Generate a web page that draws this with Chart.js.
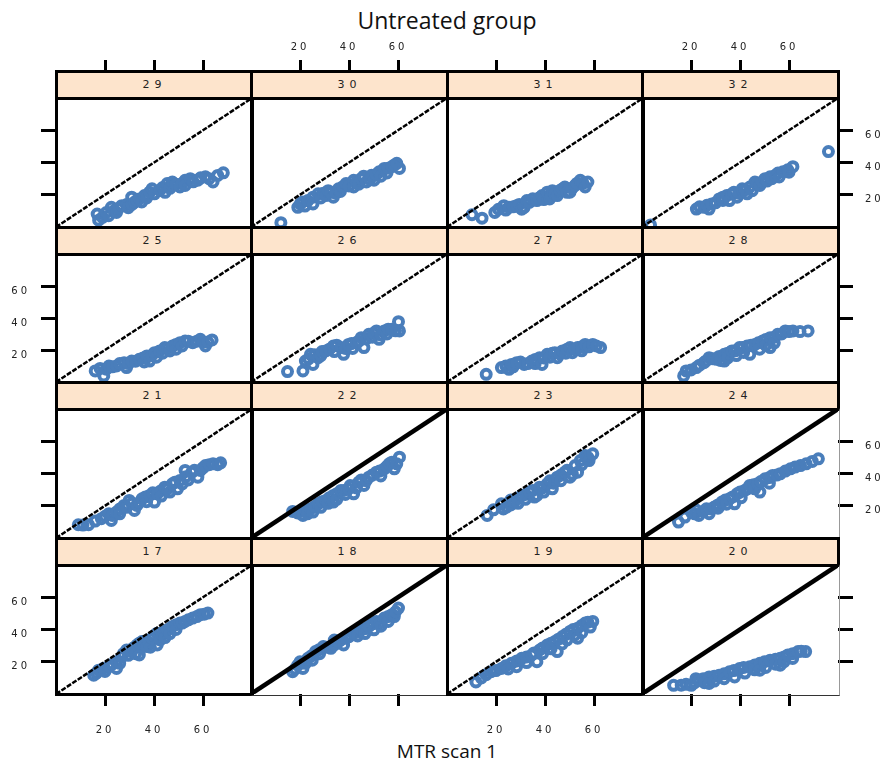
<!DOCTYPE html>
<html>
<head>
<meta charset="utf-8">
<script src="https://cdn.jsdelivr.net/npm/chart.js@4.4.0/dist/chart.umd.min.js"></script>
<style>
  body { margin: 0; background: #fff; }
  #page { position: relative; width: 884px; height: 764px; overflow: hidden; font-family: "DejaVu Sans", sans-serif; }
  #page canvas { position: absolute; }
  .strip { position: absolute; box-sizing: border-box; background: #fde4cc; border: 3px solid #000;
           text-align: center; font-size: 11px; letter-spacing: 5px; color: #222; padding-top: 5px; z-index: 2; }
  .frame { position: absolute; box-sizing: border-box; border: 3px solid #000; z-index: 2; }
  .title { position: absolute; left: 56px; width: 782px; text-align: center; font-family: "Open Sans", sans-serif; color: #111; }
</style>
</head>
<body>
<div id="page">
  <div class="title" style="top:4px; font-size:23px;">Untreated group</div>
  <div class="title" style="top:738px; font-size:19px;">MTR scan 1</div>
</div>
<script>
// panel labels, in drawing order (top row first)
const panelIds = [29, 30, 31, 32, 25, 26, 27, 28, 21, 22, 23, 24, 17, 18, 19, 20];
const tickValues = [20, 40, 60];
const axisMin = 0, axisMax = 80;
// panels whose y = x line is drawn solid and heavy
const heavyDiagonal = [22, 24, 18, 20];

// [MTR scan 1, MTR scan 2] per panel
const p29 = [[16.8,8.0],[17.4,4.2],[19,6],[20.5,9.0],[21.5,7],[22.6,12.2],[23.7,10.1],[24.7,9.0],[25.5,11.5],[26.8,13.2],[28.8,13.9],[29.5,12],[30.9,18.5],[31,14],[32.0,15.3],[33,16.5],[34.0,17.4],[35,15.5],[36.1,19.5],[37,18],[38.2,21.6],[39.2,23.7],[40.2,20.6],[42.3,22.7],[43.5,24.5],[44.5,21.5],[45.4,26.9],[46.5,24],[47.5,25.8],[47.5,27.9],[49,26.5],[50.6,24.8],[51.5,27],[52.7,29.0],[52.7,25.8],[54.8,30.0],[56,28],[57.9,29.0],[59,30.5],[61.0,31.1],[62.5,30],[64.1,27.9],[66,32],[68.3,33.6]];
const p30 = [[12.2,2.7],[19.1,12.2],[20.1,14.3],[21,15.5],[22,13],[23.2,16.4],[25.3,18.5],[25.3,14.3],[27.4,20.6],[28.5,18],[29.5,21],[30.5,19.5],[31.5,22.5],[32.6,21.6],[33.6,18.5],[34.5,21],[35.7,23.7],[36.5,22],[37.5,25],[38.8,26.9],[40,25.5],[41.9,29.0],[41.9,24.8],[43,27.5],[44,26.5],[45.0,30.0],[46,31.5],[47.1,27.9],[48.5,29.5],[49.2,32.1],[50.2,29.0],[51,32.5],[52.3,34.2],[53,31.5],[54.4,36.3],[55.5,33.5],[56,36.5],[57.5,37.4],[58.5,38.5],[59.5,39.5],[60.6,36.3]];
const p31 = [[10.2,7.6],[14.3,5.5],[19.5,9.0],[21,11],[23.2,13.2],[24,10.5],[25.3,12.2],[27,12.5],[28.4,13.2],[29.5,14],[30.5,11],[31.5,12.2],[32.6,16.4],[33.6,15.3],[35,17.5],[36.7,16.4],[37.5,18],[38.8,19.5],[39.5,17],[40.9,21.6],[41.9,17.4],[42.5,19.5],[43,22.5],[44.0,20.6],[45,19.5],[46.1,22.7],[47,23.5],[48.1,24.8],[49,21.5],[50.2,21.6],[51,24],[52.3,25.8],[53,27],[54.4,29.0],[55.5,27],[56.4,24.8],[57.5,27.9]];
const p32 = [[3.5,1.3],[22.2,11.1],[23.5,12.5],[25.3,12.2],[26.5,13.5],[27.4,11.1],[28.4,14.3],[30,15],[31.5,17.4],[33,16.5],[33,18.5],[34.6,19.5],[35.7,16.4],[36.7,20.6],[37.5,21.5],[38.8,18.5],[39.5,21],[40.9,23.7],[42,23],[42.9,20.6],[44.0,24.8],[45,22.5],[46.1,27.9],[47,26.5],[48.1,25.8],[49,28],[50.2,30.0],[51,28.5],[52.3,31.1],[53,30],[54.4,32.1],[55.5,33.5],[56,31],[57.5,34.2],[59.5,35.5],[60,34],[61.6,37.4],[76.1,46.8]];
const p25 = [[16.0,6.9],[18,8.5],[19.5,3.8],[20.5,8],[21.6,10.0],[23,9.5],[24.7,10.0],[26,11.5],[27.8,12.1],[28.8,9.0],[29.5,11.5],[30.9,13.1],[32.5,13],[34.0,14.2],[35.5,15],[36,12.5],[37.1,16.3],[38.2,13.1],[39,16.5],[40.2,18.3],[41,15.5],[42.3,19.4],[43.5,18],[44.4,21.5],[45.5,21],[46.5,19.4],[47.5,22.5],[49,23.5],[49,20.5],[50.6,24.6],[51.5,22.5],[52.7,25.6],[54,25.5],[55.8,24.6],[57.5,25.5],[58.9,26.7],[60,25],[61.0,22.5],[62,25],[63.7,26.3]];
const p26 = [[14.9,6.5],[21.2,6.9],[22.2,13.1],[23.5,14.5],[24.3,17.3],[25.3,11.0],[26,17],[27.4,15.2],[28.5,16.5],[29,19],[30.5,19.4],[32,20.5],[33.6,22.5],[34,19],[35,23],[36.7,21.5],[37.8,17.3],[38.5,21],[39.8,23.5],[41,24],[41.5,21],[42.9,24.6],[44,25.5],[45.0,27.7],[46.1,21.5],[47,27],[48.1,29.8],[49.5,28],[50,30.5],[51.2,31.9],[52.3,26.7],[53,29.5],[54.4,31.9],[55.5,30],[56,33],[57.5,32.9],[59,32],[60.6,31.9],[60.2,37.7]];
const p27 = [[16.0,4.8],[22.2,9.0],[24,10],[25.3,7.9],[26.3,11.0],[27,9.5],[28.4,12.1],[30,12.5],[31.5,11.0],[33,11.5],[34.6,13.1],[36,14],[36,11.5],[37.8,15.2],[38.8,11.0],[39.5,15],[40.9,17.3],[42,15.5],[43,18],[44.0,18.3],[45.0,15.2],[46,17.5],[47.1,19.4],[48.5,18],[49,20.5],[50.2,21.5],[51.2,18.3],[52,20.5],[53.3,21.5],[55,22],[55,19.5],[56.4,23.5],[58,22],[59.5,23.5],[61,22.5],[62.7,21.5]];
const p28 = [[17.0,3.8],[18.0,6.9],[20,7.5],[22.2,9.0],[23.5,10.5],[25.3,12.1],[26,13],[27.4,15.2],[29,14.5],[30.5,14.2],[31.5,16],[32,13.5],[33.6,17.3],[33.6,13.1],[35,18],[35,15],[36.7,19.4],[38,19.5],[38.5,16.5],[39.8,21.5],[41,21.5],[41.5,18.5],[42.9,22.5],[44.0,17.3],[44.5,23],[46.1,23.5],[47.5,24.5],[48,20.5],[49.2,25.6],[50.5,26.5],[50.5,23],[52.3,27.7],[52.3,21.5],[54,28],[54,24.5],[55.4,29.8],[57,30],[58.5,31.9],[60,31.5],[61.6,31.9],[64.5,31.5],[67.8,31.9]];
const p21 = [[9.1,8.2],[11,8],[13.3,8.2],[16,10.5],[18.5,12.0],[20,13.5],[21.6,15.1],[22.6,10.9],[23,14],[24.7,16.1],[26,18],[26,15],[27.8,20.2],[28.8,19],[29.9,23.3],[31,21.5],[32.0,17.1],[33.0,20.2],[34,22],[35.1,24.3],[36.5,25.5],[37,22.5],[38.2,26.4],[39.5,28],[40.2,22.3],[41.3,27.4],[42.5,29],[43,26],[44.4,31.5],[45.5,30.5],[46.5,28.5],[47.5,33.6],[48.5,34.5],[49.6,30.5],[50.6,35.7],[51.5,33.5],[52.7,41.9],[53,38],[54,36],[55.5,40.8],[56.5,42],[57.9,37.7],[58.9,41.9],[60,43.5],[61.0,44.9],[62.5,45.5],[64.1,46.0],[66,45.5],[67.2,46.6]];
const p22 = [[17.0,16.5],[19,15.5],[21.2,14.0],[22.5,17],[23,15],[24.3,18.1],[25.3,16.1],[26,19.5],[27.4,21.2],[28.5,19],[29,22.5],[30.5,23.3],[31.5,21.5],[32,25],[33.6,26.4],[33.6,22.3],[35,27.5],[35,24],[36.7,29.5],[38,29.5],[38.5,27],[39.8,30.5],[40.5,32.5],[41.9,27.4],[43,31],[44.0,34.6],[45,36],[46.1,32.6],[47,35.5],[48.1,37.7],[49.5,39],[51.2,40.8],[52.5,41.5],[53,38.5],[54.4,42.9],[55.5,44.5],[56.4,46.0],[57.5,47],[58.5,42.9],[59.5,46],[60.6,50.1]];
const p23 = [[16.4,14.0],[19,17.5],[22.2,21.2],[23,18],[24.3,19.2],[26,20.5],[26,23.5],[27.4,22.3],[29,24.5],[29,21.5],[30.5,26.4],[32,27],[32,24],[33.6,28.5],[35,29.5],[35.7,25.4],[36.7,26.4],[37.8,31.5],[39,31],[39.5,28.5],[40.9,33.6],[42,35.5],[43.0,30.5],[43.5,34],[45.0,37.7],[46.5,39],[46.5,35.5],[48.1,40.8],[49,42],[50.2,37.7],[51.2,39.5],[52.3,44.9],[53.3,40.8],[54.4,48.0],[55,45.5],[56.4,51.1],[57.5,50],[58,48],[59.5,52.2]];
const p24 = [[14.9,9.9],[17.5,13],[20.1,16.1],[21.5,15],[22,17.5],[23.2,14.0],[25,16.5],[26.3,18.1],[27.4,15.1],[28,18],[29.5,19.2],[31,20.5],[31,18.5],[32.6,22.3],[34,23.5],[34.5,21],[35.7,24.3],[37,25.5],[37.8,21.2],[38.8,27.4],[40,28.5],[40.5,25],[41.9,29.5],[43,30.5],[44.0,32.6],[45.5,33],[46,30.5],[47.1,33.6],[48.1,28.5],[48.5,35],[50.2,36.7],[52,37.5],[52,34],[53.3,38.8],[55,39],[56.4,39.8],[58.5,41.5],[60.6,42.9],[62.5,44],[64.7,44.9],[67,46],[69.5,47.5],[72.0,49.1]];
const p17 = [[15.4,11.7],[16.5,13],[17.4,14.8],[19.5,16],[20,14],[21.6,16.9],[23,18.5],[24.7,20.0],[24.7,15.8],[26,19],[26.8,23.1],[27.5,25],[28.8,27.3],[29.5,24],[30.9,26.3],[31.5,28.5],[32.5,25],[33.0,30.4],[34.0,24.2],[34,31.5],[35.1,32.5],[36,30.5],[37.1,29.4],[38,32],[38.5,29],[39.2,34.6],[40,36],[41.3,37.7],[41.3,30.4],[42.5,33.5],[43.4,36.7],[44,38.5],[44.5,35],[45.4,39.8],[46.5,40.5],[46.5,37.5],[47.5,41.9],[49,43],[49,40],[50.6,44.0],[51.5,44],[52.7,45.0],[54,46],[55.8,47.1],[57.5,48],[58.9,49.2],[60.5,49.5],[62.0,50.2]];
const p18 = [[17.0,13.8],[18,15.5],[19.1,17.9],[20,20],[21.2,15.8],[22.2,19],[23.2,22.1],[24.5,23.5],[25,21],[26.3,26.3],[27.8,27.5],[28,25],[29.5,29.4],[31,29],[32.6,28.3],[34,30.5],[34,33.5],[35.7,32.5],[36.7,33.5],[37.8,30.4],[38.8,34.6],[40,35.5],[40.5,36.5],[41.9,37.7],[43.5,38.5],[43.5,36],[45.0,39.8],[46.5,40.5],[46.5,37.5],[48.1,41.9],[49.5,43.5],[50.2,39.8],[51.2,45.0],[52.5,44],[53,42],[54.4,47.1],[56,48],[56,45],[57.5,49.2],[58.5,48],[59,51],[60.2,53.3]];
const p19 = [[11.8,7.5],[14,10],[16,12],[18.0,13.8],[20,14.5],[22.2,15.8],[24,17.5],[25,15.5],[26.3,19.0],[28.4,16.9],[28.5,20.5],[30.5,22.1],[32.5,23],[32.5,19.5],[34.6,24.2],[35.5,25.5],[36.7,20.0],[37.8,27.3],[39,28.5],[39,25],[40.9,30.4],[42.5,31.5],[42.5,28],[44.0,32.5],[45.0,26.3],[45.5,34],[47,31],[47.1,35.6],[48.5,37],[49,33.5],[50.2,38.8],[51.5,40],[52,36.5],[53.3,40.8],[53.3,34.6],[55,42.5],[55,38],[56.4,44.0],[57.5,44.5],[58.5,41.5],[59.5,45.0]];
const p20 = [[12.9,5.4],[16,5.5],[18,6],[20.1,5.4],[21.5,7],[22,9.5],[23.2,8.5],[25,9.5],[25.5,7],[27.4,10.6],[27.4,6.5],[29.5,11],[29.5,8],[31.5,11.7],[33.5,12.5],[33.5,9.5],[35.7,13.8],[37.5,14.5],[37.8,10.6],[39.8,15.8],[41.5,16.5],[42,13],[44.0,16.9],[46,18],[46,15],[48.1,19.0],[48.1,14.8],[50,20],[50.5,16.5],[52.3,21.0],[54.5,21.5],[54.5,18.5],[56.4,22.1],[56.4,17.9],[58,23],[58,20],[59.5,24.2],[61.5,25],[61.5,22],[63.7,26.3],[65,26.5],[66.8,26.3]];

const panelData = [p29, p30, p31, p32, p25, p26, p27, p28, p21, p22, p23, p24, p17, p18, p19, p20];

// ---------- layout ----------
const colLeft = [56, 251, 447, 642];
const panelW = 196;
const rowTop = [71, 227, 382, 538, 694];   // last entry = bottom of lowest panel
const stripH = 27;
const blue = "#4a7ebb";

const page = document.getElementById("page");

// tick labels in R lattice style are loosely spaced
const spacedLabels = {
  id: "spacedLabels",
  beforeDraw(chart) { chart.ctx.letterSpacing = "3px"; }
};

function axis(pos, size, tickLen, pad, showLabels) {
  const horizontal = pos === "top" || pos === "bottom";
  return {
    type: "linear",
    position: pos,
    min: axisMin,
    max: axisMax,
    display: true,
    afterBuildTicks: (s) => { s.ticks = tickValues.map((v) => ({ value: v })); },
    afterFit: (s) => {
      if (horizontal) s.height = size; else s.width = size;
      // keep the plot area fixed: labels must not push it inwards
      s.paddingTop = s.paddingBottom = s.paddingLeft = s.paddingRight = 0;
    },
    grid: {
      drawOnChartArea: false, drawTicks: true, tickLength: tickLen,
      tickColor: "#000", tickWidth: 3, color: "#000", lineWidth: 3
    },
    border: { display: false },
    ticks: {
      color: showLabels ? "#222" : "rgba(0,0,0,0)",
      font: { family: "DejaVu Sans", size: 10 },
      padding: pad,
      labelOffset: horizontal ? 0 : 5,
      maxRotation: 0,
      autoSkip: false
    }
  };
}

panelIds.forEach((id, i) => {
  const r = Math.floor(i / 4), c = i % 4;
  const x = colLeft[c];
  const stripTop = rowTop[r];
  const top = stripTop + stripH;
  const h = rowTop[r + 1] - top;

  const padL = c === 0 ? 56 : 0;
  const padR = c === 3 ? 46 : 0;
  const padT = r === 0 ? 63 : 0;
  const padB = r === 3 ? 46 : 0;

  const canvas = document.createElement("canvas");
  canvas.width = panelW + padL + padR;
  canvas.height = h + padT + padB;
  canvas.style.left = (x - padL) + "px";
  canvas.style.top = (top - padT) + "px";
  page.appendChild(canvas);

  const scales = {
    x: r === 3 ? axis("bottom", padB, 12, 18, c % 2 === 0)
               : { type: "linear", min: axisMin, max: axisMax, display: false },
    y: c === 0 ? axis("left", padL, 15, 11, r % 2 === 1)
               : { type: "linear", min: axisMin, max: axisMax, display: false }
  };
  // top axis ticks sit above the strip, so they run through it
  if (r === 0) scales.xTop = axis("top", padT, 38, 7, c % 2 === 1);
  if (c === 3) scales.yRight = axis("right", padR, 15, 12, r % 2 === 0);

  const heavy = heavyDiagonal.includes(id);

  new Chart(canvas, {
    data: {
      datasets: [
        {
          type: "line",
          data: [{ x: axisMin, y: axisMin }, { x: axisMax, y: axisMax }],
          borderColor: "#000",
          borderWidth: heavy ? 4.5 : 2.5,
          borderDash: heavy ? [] : [5, 1.5],
          pointRadius: 0,
          order: 0
        },
        {
          type: "scatter",
          data: panelData[i].map((p) => ({ x: p[0], y: p[1] })),
          pointStyle: "circle",
          pointRadius: 4.5,
          pointBorderWidth: 4,
          pointBackgroundColor: "rgba(0,0,0,0)",
          pointBorderColor: blue,
          order: 1
        }
      ]
    },
    options: {
      responsive: false,
      animation: false,
      devicePixelRatio: 1,
      layout: { padding: 0, autoPadding: false },
      plugins: { legend: { display: false }, tooltip: { enabled: false } },
      scales
    },
    plugins: [spacedLabels]
  });

  // strip with the panel label
  const strip = document.createElement("div");
  strip.className = "strip";
  Object.assign(strip.style, {
    left: (x - 1) + "px", top: (stripTop - 1) + "px",
    width: (panelW + 3) + "px", height: (stripH + 3) + "px"
  });
  strip.textContent = String(id);
  page.appendChild(strip);

  // panel frame
  const frame = document.createElement("div");
  frame.className = "frame";
  Object.assign(frame.style, {
    left: (x - 1) + "px", top: (top - 1) + "px",
    width: (panelW + 3) + "px", height: (h + 3) + "px"
  });
  if (heavy && c === 3) frame.style.borderRight = "1px solid #999";
  if (heavy && r === 3) frame.style.borderBottom = "1px solid #333";
  page.appendChild(frame);
});
</script>
</body>
</html>
